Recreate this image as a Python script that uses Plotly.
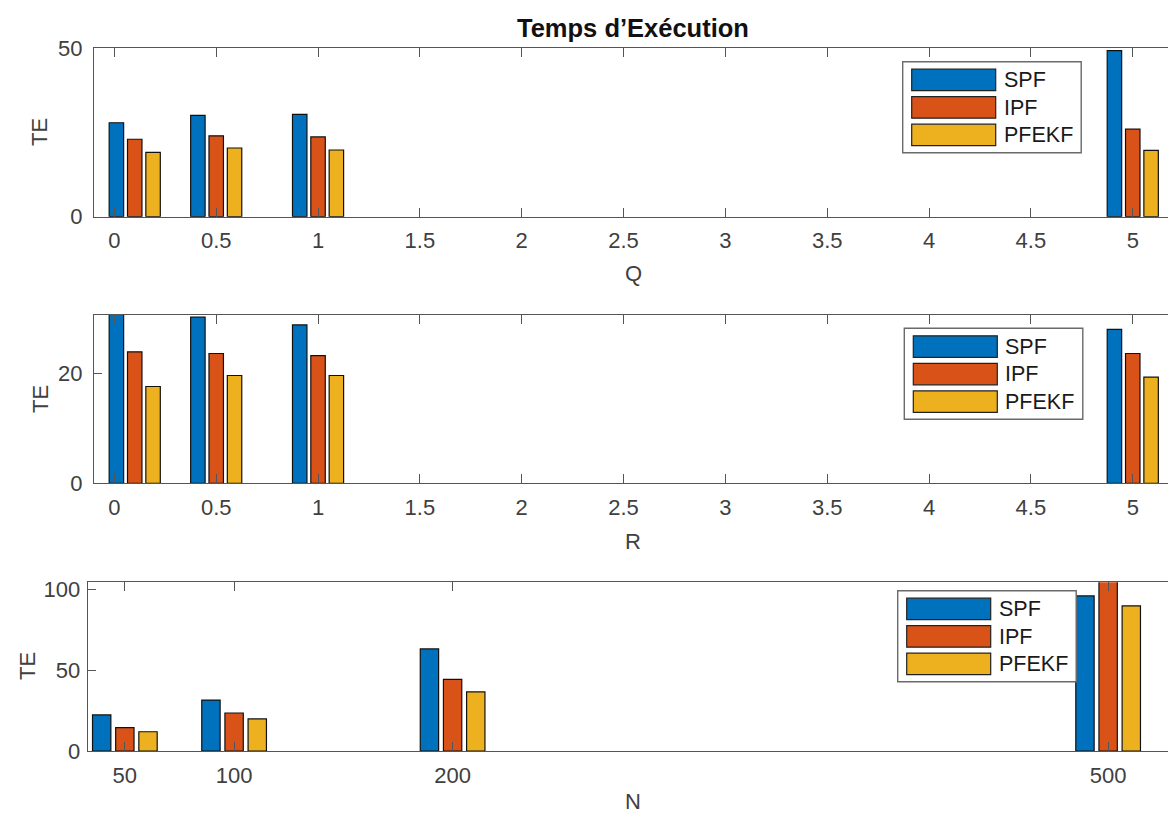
import plotly.graph_objects as go

# ---------------- data ----------------
series_names = ["SPF", "IPF", "PFEKF"]
series_colors = ["#0072BD", "#D95319", "#EDB120"]

Q_vals = [0.1, 0.5, 1, 5]
te_q_spf = [27.9, 30.1, 30.4, 49.3]
te_q_ipf = [23.0, 24.0, 23.7, 26.0]
te_q_pfekf = [19.1, 20.4, 19.8, 19.7]

R_vals = [0.1, 0.5, 1, 5]
te_r_spf = [31.5, 30.2, 28.8, 28.0]
te_r_ipf = [23.9, 23.6, 23.2, 23.6]
te_r_pfekf = [17.6, 19.6, 19.6, 19.3]

N_vals = [50, 100, 200, 500]
te_n_spf = [22.3, 31.5, 63.1, 95.9]
te_n_ipf = [14.4, 23.5, 44.3, 108.0]
te_n_pfekf = [11.9, 19.8, 36.5, 89.7]

QR_ticks = [0, 0.5, 1, 1.5, 2, 2.5, 3, 3.5, 4, 4.5, 5]
TE_ticks_q = [0, 50]
TE_ticks_r = [0, 20]
TE_ticks_n = [0, 50, 100]

title_text = "Temps d\u2019Ex\u00e9cution"

# ---------------- layout helpers ----------------
W, H = 1168, 816


def px_x(p):
    return p / W


def px_y(p):
    return 1 - p / H


FONT = "Liberation Sans, Arial, Helvetica, sans-serif"
TICK_COLOR = "#404040"
AXIS_COLOR = "#555555"
TICK_SIZE = 22

fig = go.Figure()

panels = [
    dict(x=Q_vals, ys=[te_q_spf, te_q_ipf, te_q_pfekf], xa="x", ya="y", sp=0.09, w=0.071),
    dict(x=R_vals, ys=[te_r_spf, te_r_ipf, te_r_pfekf], xa="x2", ya="y2", sp=0.09, w=0.071),
    dict(x=N_vals, ys=[te_n_spf, te_n_ipf, te_n_pfekf], xa="x3", ya="y3", sp=10.6, w=8.4),
]

for p in panels:
    for k, (name, col, ys) in enumerate(zip(series_names, series_colors, p["ys"])):
        fig.add_trace(go.Bar(
            x=p["x"], y=ys, name=name, xaxis=p["xa"], yaxis=p["ya"],
            marker=dict(color=col, line=dict(color="#111111", width=1.2)),
            width=p["w"], offset=(k - 1) * p["sp"] - p["w"] / 2,
            showlegend=False,
        ))

common_x = dict(
    showline=True, linecolor=AXIS_COLOR, linewidth=1.3, mirror="ticks",
    ticks="inside", ticklen=9, tickcolor=AXIS_COLOR, tickwidth=1.2,
    showgrid=False, zeroline=False, automargin=False,
    tickfont=dict(family=FONT, size=TICK_SIZE, color=TICK_COLOR),
)
common_y = dict(
    showline=True, linecolor=AXIS_COLOR, linewidth=1.3, mirror=False,
    ticks="inside", ticklen=8, tickcolor=AXIS_COLOR, tickwidth=1.2,
    showgrid=False, zeroline=False, automargin=False,
    tickfont=dict(family=FONT, size=TICK_SIZE, color=TICK_COLOR),
)

fig.update_layout(
    width=W, height=H,
    margin=dict(l=0, r=0, t=0, b=0),
    paper_bgcolor="white", plot_bgcolor="white",
    barmode="overlay",
    xaxis=dict(common_x, domain=[px_x(94), 1], range=[-0.1, 5.173],
               tickvals=QR_ticks, anchor="y", ticklabelstandoff=4),
    yaxis=dict(common_y, domain=[px_y(216.7), px_y(48.3)], range=[0, 50],
               tickvals=TE_ticks_q, anchor="x", ticklabelstandoff=6),
    xaxis2=dict(common_x, domain=[px_x(94), 1], range=[-0.1, 5.173],
                tickvals=QR_ticks, anchor="y2", ticklabelstandoff=4),
    yaxis2=dict(common_y, domain=[px_y(483.3), px_y(315)], range=[0, 30.6],
                tickvals=TE_ticks_r, anchor="x2", ticklabelstandoff=6),
    xaxis3=dict(common_x, domain=[px_x(87.7), 1], range=[33.0, 527.4],
                tickvals=N_vals, anchor="y3", ticklabelstandoff=4),
    yaxis3=dict(common_y, domain=[px_y(751), px_y(582.3)], range=[0, 104.3],
                tickvals=TE_ticks_n, anchor="x3", ticklabelstandoff=2),
)

annotations = []
shapes = []


def text_at(x, y, s, size=22, bold=False, color="#262626", xanchor="center", angle=0):
    annotations.append(dict(
        x=px_x(x), y=px_y(y), xref="paper", yref="paper", text=(f"<b>{s}</b>" if bold else s),
        showarrow=False, xanchor=xanchor, yanchor="middle", textangle=angle,
        font=dict(family=FONT, size=size, color=color),
    ))


# title and axis labels
text_at(632.5, 28, title_text, size=25.5, bold=True, color="#111111")
text_at(633, 274, "Q", color=TICK_COLOR)
text_at(633, 541, "R", color=TICK_COLOR)
text_at(633, 801, "N", color=TICK_COLOR)
text_at(40, 132, "TE", color=TICK_COLOR, angle=-90)
text_at(40, 399, "TE", color=TICK_COLOR, angle=-90)
text_at(27, 666, "TE", color=TICK_COLOR, angle=-90)


def legend_at(x0, y0):
    bw, bh = 178.5, 91
    shapes.append(dict(type="rect", xref="paper", yref="paper",
                       x0=px_x(x0), x1=px_x(x0 + bw), y0=px_y(y0 + bh), y1=px_y(y0),
                       line=dict(color="#6a6a6a", width=1.4), fillcolor="white", layer="above"))
    for i, (name, col) in enumerate(zip(series_names, series_colors)):
        top = y0 + 7.5 + i * 27.5
        shapes.append(dict(type="rect", xref="paper", yref="paper",
                           x0=px_x(x0 + 9), x1=px_x(x0 + 93), y0=px_y(top + 21.5), y1=px_y(top),
                           line=dict(color="#222222", width=1.2), fillcolor=col, layer="above"))
        text_at(x0 + 99, top + 11, name, size=21.5, color="#1a1a1a", xanchor="left")


legend_at(902.7, 61.7)
legend_at(904.3, 328.3)
legend_at(897.7, 590.7)

fig.update_layout(annotations=annotations, shapes=shapes)

fig.write_html(
    "out.html",
    config={"displayModeBar": False},
    post_script="document.body.style.margin='0';document.body.style.padding='0';",
)
